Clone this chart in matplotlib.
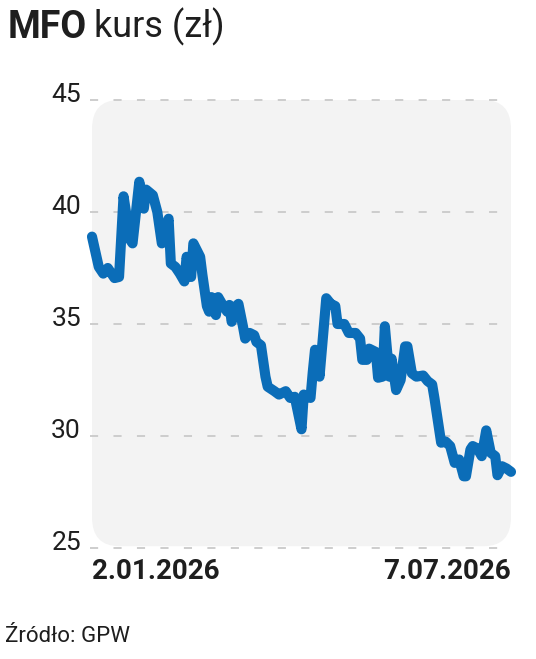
"""Wykres kursu MFO"""

from matplotlib import pyplot as plt
from matplotlib.patches import FancyBboxPatch
import matplotlib.transforms as mtrans
import numpy as np

# daty notowan (2026) i kurs zamkniecia
daty = [
    "01-02", "01-05", "01-07", "01-09", "01-12", "01-14", "01-16", "01-19",
    "01-20", "01-23", "01-25", "01-26", "01-29", "01-31", "02-02", "02-05",
    "02-06", "02-08", "02-10", "02-12", "02-13", "02-15", "02-16", "02-19",
    "02-20", "02-22", "02-23", "02-24", "02-26", "02-27", "03-01", "03-03",
    "03-04", "03-05", "03-07", "03-08", "03-10", "03-11", "03-13", "03-15",
    "03-16", "03-18", "03-20", "03-21", "03-24", "03-26", "03-29", "03-31",
    "04-02", "04-05", "04-06", "04-09", "04-10", "04-11", "04-13", "04-16",
    "04-18", "04-20", "04-21", "04-24", "04-26", "04-29", "05-01", "05-02",
    "05-04", "05-05", "05-08", "05-09", "05-11", "05-12", "05-14", "05-15",
    "05-17", "05-19", "05-21", "05-22", "05-24", "05-26", "05-29", "05-31",
    "06-02", "06-03", "06-06", "06-08", "06-10", "06-12", "06-14", "06-16",
    "06-17", "06-19", "06-20", "06-22", "06-24", "06-26", "06-28", "06-30",
    "07-01", "07-03", "07-05", "07-07",
]
kurs = [
    38.9, 37.55, 37.25, 37.5, 37.05, 37.1, 40.7, 38.75,
    38.6, 41.35, 40.15, 41.0, 40.75, 40.0, 38.6, 39.7,
    37.7, 37.55, 37.25, 36.9, 38.0, 37.1, 38.6, 38.0,
    37.2, 35.8, 35.55, 36.2, 35.4, 36.2, 35.85, 35.55,
    35.85, 35.1, 35.8, 35.9, 34.9, 34.35, 34.6, 34.5,
    34.2, 34.05, 32.65, 32.2, 32.0, 31.85, 32.0, 31.7,
    31.75, 30.3, 31.85, 31.7, 32.85, 33.85, 32.65, 36.15,
    35.9, 35.8, 35.0, 35.0, 34.6, 34.6, 34.35, 33.4,
    33.4, 33.9, 33.75, 32.6, 32.65, 34.9, 32.65, 33.45,
    32.05, 32.5, 34.0, 34.0, 32.8, 32.65, 32.7, 32.45,
    32.3, 31.7, 29.7, 29.75, 29.55, 28.8, 28.95, 28.2,
    28.2, 29.4, 29.55, 29.45, 29.1, 30.25, 29.25, 29.1,
    28.25, 28.65, 28.55, 28.4,
]
y_ticki = [25, 30, 35, 40, 45]
etykiety_x = ["2.01.2026", "7.07.2026"]

NIEBIESKI = "#0b6db8"
TLO = "#f3f3f3"
TEKST = "#1e1e1e"

x = np.array(["2026-" + d for d in daty], dtype="datetime64[D]")

W, H = 536, 659
fig = plt.figure(figsize=(W / 100, H / 100), dpi=100, facecolor="white")
ax = fig.add_axes([92 / W, (H - 548) / H, (511 - 92) / W, 448 / H])
ax.set_xlim(x[0], x[-1])
ax.set_ylim(25, 45)
ax.patch.set_visible(False)
for s in ax.spines.values():
    s.set_visible(False)
ax.set_xticks([])
ax.set_yticks([])

# szare tlo z zaokraglonymi rogami
tlo = FancyBboxPatch((0, 0.004), 1, 0.996, boxstyle="round,pad=0,rounding_size=0.065",
                     transform=ax.transAxes, facecolor=TLO, edgecolor="none",
                     zorder=0, clip_on=False)
ax.add_patch(tlo)

# linie siatki i opisy osi OY
przes = mtrans.ScaledTranslation(-11 / 100, 5 / 100, fig.dpi_scale_trans)
for v in y_ticki:
    ax.axhline(v, color="#c9c9c9", lw=1.3, dashes=(4.5, 8.5), zorder=1,
               xmin=-0.005, xmax=1.0, clip_on=False)
    ax.text(0, v, str(v), transform=ax.get_yaxis_transform() + przes,
            ha="right", va="center", fontsize=19, color=TEKST,
            family="Roboto")

ax.plot(x, kurs, color=NIEBIESKI, lw=7.3, solid_joinstyle="round",
        solid_capstyle="round", zorder=3, clip_on=False)

# daty pod osia
ax.text(0, -0.022, etykiety_x[0], transform=ax.transAxes, ha="left", va="top",
        fontsize=20, fontweight="bold", color=TEKST, family="Roboto")
ax.text(1, -0.022, etykiety_x[1], transform=ax.transAxes, ha="right", va="top",
        fontsize=20, fontweight="bold", color=TEKST, family="Roboto")

# tytul
t1 = fig.text(8 / W, 1 - 38 / H, "MFO", fontsize=27, fontweight="bold",
              color=TEKST, family="Roboto", va="baseline")
ax.annotate("kurs (zł)", xy=(1, 0), xycoords=t1, xytext=(5, 0),
            textcoords="offset points", va="bottom", fontsize=26,
            color=TEKST, family="Roboto", annotation_clip=False)

fig.text(5 / W, 1 - 642 / H, "Źródło: GPW", fontsize=16,
         color=TEKST, family="Roboto", va="baseline")

fig.savefig("out.png", dpi=100, facecolor="white")
